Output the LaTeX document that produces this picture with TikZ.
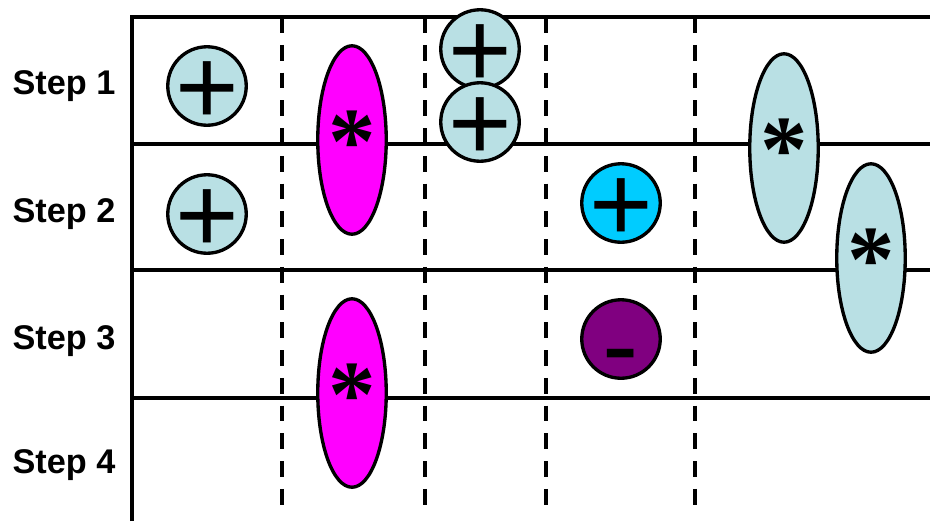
\documentclass[tikz,border=0pt]{standalone}
\usepackage{fontspec}
\setmainfont{Liberation Sans}
\newfontfamily\starfont{Liberation Serif}
\usetikzlibrary{shapes.geometric}
\definecolor{sign-pale}{RGB}{185,224,228}
\definecolor{sign-magenta}{RGB}{255,0,255}
\definecolor{sign-cyan}{RGB}{0,204,255}
\definecolor{sign-purple}{RGB}{128,0,128}
% zero-size glyph, lowered so that it sits in the middle of its node
\newcommand{\opglyph}[2]{\raisebox{#1}[0pt][0pt]{\makebox[0pt]{#2}}}

\begin{document}
\begin{tikzpicture}[x=0.02cm, y=-0.02cm,
  grid/.style={line width=2pt},
  lane/.style={line width=2pt, dash pattern=on 9pt off 6.8pt},
  steplabel/.style={font=\fontsize{19.5}{20}\selectfont\bfseries},
  sign/.style={circle, draw, line width=1.9pt, minimum size=1.57cm, inner sep=0pt, font=\fontsize{62}{62}\selectfont},
  mult/.style={ellipse, draw, line width=1.9pt, minimum width=1.37cm, minimum height=3.77cm, inner sep=0pt, font=\starfont\bfseries\fontsize{54}{54}\selectfont},
]
  \useasboundingbox (0,0) rectangle (930,521);

  % grid
  \draw[grid] (132,521) -- (132,17) -- (930,17);
  \foreach \y in {144,270,398}
    \draw[grid] (132,\y) -- (930,\y);
  \foreach \x in {282,425,546,695}
    \draw[lane] (\x,17) -- (\x,508);

  % step labels
  \node[steplabel] (step1) at (64,86) {Step 1};
  \node[steplabel] (step2) at (64,214) {Step 2};
  \node[steplabel] (step3) at (64,341) {Step 3};
  \node[steplabel] (step4) at (64,465) {Step 4};

  % adders
  \node[sign, fill=sign-pale] (addA) at (207,86) {\opglyph{-21.7pt}{+}};
  \node[sign, fill=sign-pale] (addB) at (207,214) {\opglyph{-21.7pt}{+}};
  \node[sign, fill=sign-pale] (addC) at (480,49) {\opglyph{-21.7pt}{+}};
  \node[sign, fill=sign-pale] (addD) at (480,122) {\opglyph{-21.7pt}{+}};
  \node[sign, fill=sign-cyan] (addE) at (621,203) {\opglyph{-21.7pt}{+}};
  \node[sign, fill=sign-purple] (subA) at (621,339) {\opglyph{-24.6pt}{-}};

  % multipliers
  \node[mult, fill=sign-magenta] (mulA) at (352,140) {\opglyph{-19pt}{*}};
  \node[mult, fill=sign-magenta] (mulB) at (352,393) {\opglyph{-19pt}{*}};
  \node[mult, fill=sign-pale] (mulC) at (784,148) {\opglyph{-19pt}{*}};
  \node[mult, fill=sign-pale] (mulD) at (871,258) {\opglyph{-19pt}{*}};
\end{tikzpicture}
\end{document}
